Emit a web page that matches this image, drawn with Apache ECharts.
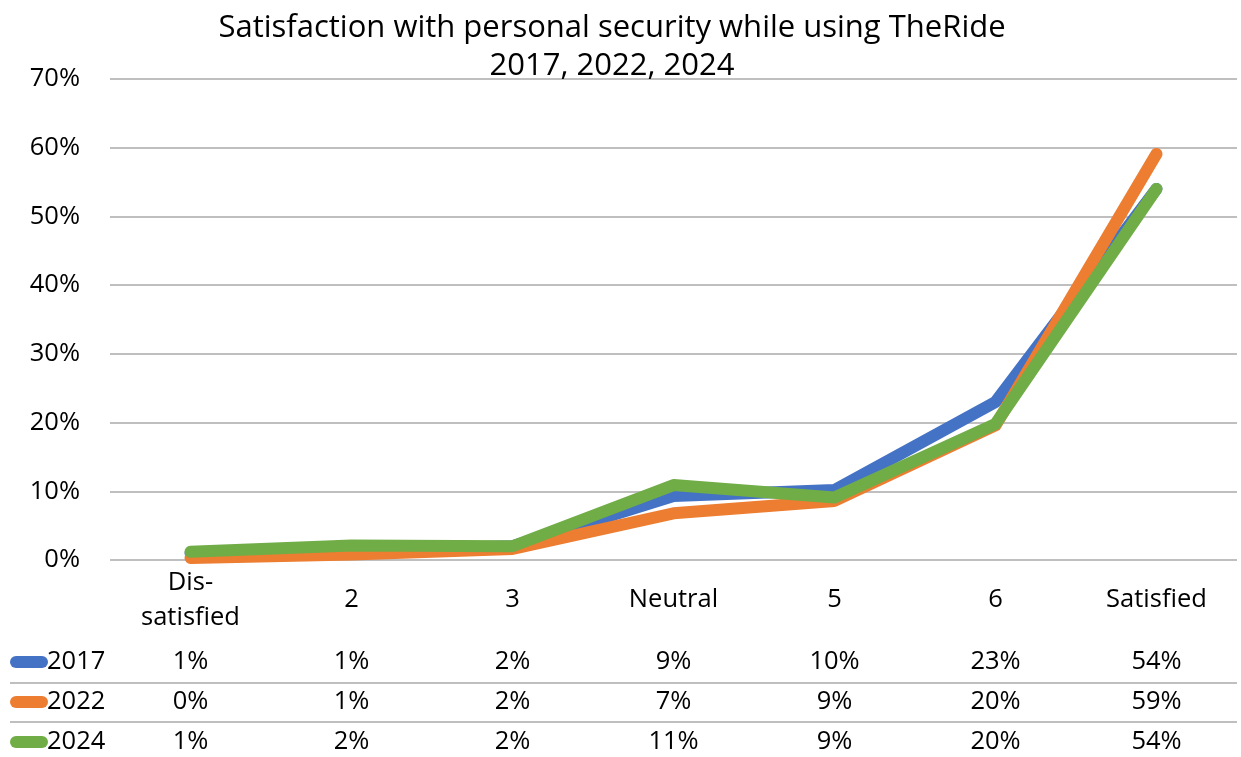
<!DOCTYPE html>
<html><head><meta charset="utf-8">
<script src="https://cdn.jsdelivr.net/npm/echarts@6/dist/echarts.min.js"></script>
<style>html,body{margin:0;padding:0;background:#fff}#c{width:1241px;height:757px}</style>
</head><body><div id="c"></div>
<script>
const categories = ['Dis-\nsatisfied', '2', '3', 'Neutral', '5', '6', 'Satisfied'];
const seriesNames = ['2017', '2022', '2024'];
const v2017 = [1, 1.4, 2, 9.3, 10.2, 23, 54];
const v2022 = [0.3, 0.8, 1.6, 6.8, 8.6, 19.6, 59.1];
const v2024 = [1.2, 2.1, 2.0, 10.9, 9.1, 19.8, 54];
const yTicks = [0, 10, 20, 30, 40, 50, 60, 70];
const colors = ['#4472C4', '#ED7D31', '#70AD47'];
const allValues = [v2017, v2022, v2024];
const FONT = 'Open Sans';
const FS = 25.5;

const chart = echarts.init(document.getElementById('c'));
const option = {
  animation: false,
  textStyle: { fontFamily: FONT },
  title: {
    text: 'Satisfaction with personal security while using TheRide\n2017, 2022, 2024',
    left: 607, top: 4, textAlign: 'center',
    textStyle: { fontFamily: FONT, fontSize: 31, fontWeight: 'normal', color: '#000', lineHeight: 38 }
  },
  grid: { left: 110, right: 4, top: 79, bottom: 197 },
  xAxis: {
    type: 'category', data: categories, boundaryGap: true,
    axisLine: { show: false }, axisTick: { show: false },
    axisLabel: { fontFamily: FONT, fontSize: FS, color: '#000', margin: 40, lineHeight: 35, interval: 0, verticalAlign: 'middle' }
  },
  yAxis: {
    type: 'value', min: yTicks[0], max: yTicks[yTicks.length - 1], interval: 10,
    axisLabel: { formatter: v => v + '%', fontFamily: FONT, fontSize: FS, color: '#000', margin: 30 },
    splitLine: { lineStyle: { color: '#BFBFBF', width: 2 } },
    axisLine: { show: false }, axisTick: { show: false }
  },
  series: seriesNames.map((n, i) => ({
    name: n, type: 'line', data: allValues[i], showSymbol: false, symbol: 'none',
    lineStyle: { width: 12, color: colors[i], cap: 'round', join: 'round' },
    itemStyle: { color: colors[i] }, z: 2 + i
  }))
};
chart.setOption(option);

// data table below the chart
const rowsY = [662, 702, 742];
const g = [];
seriesNames.forEach((n, i) => {
  g.push({ type: 'line', shape: { x1: 16, y1: rowsY[i], x2: 42, y2: rowsY[i] },
    style: { stroke: colors[i], lineWidth: 12, lineCap: 'round' } });
  g.push({ type: 'text', x: 47, y: rowsY[i], style: { text: n, fontFamily: FONT, fontSize: FS, fill: '#000', textVerticalAlign: 'middle', textAlign: 'left' } });
  allValues[i].forEach((v, j) => {
    const x = chart.convertToPixel({ xAxisIndex: 0 }, j);
    g.push({ type: 'text', x: x, y: rowsY[i], style: { text: Math.round(v) + '%', fontFamily: FONT, fontSize: FS, fill: '#000', textAlign: 'center', textVerticalAlign: 'middle' } });
  });
});
[683, 722].forEach(y => g.push({ type: 'line', shape: { x1: 10, y1: y, x2: 1237, y2: y }, style: { stroke: '#BFBFBF', lineWidth: 2 } }));
chart.setOption({ graphic: g });
</script></body></html>
